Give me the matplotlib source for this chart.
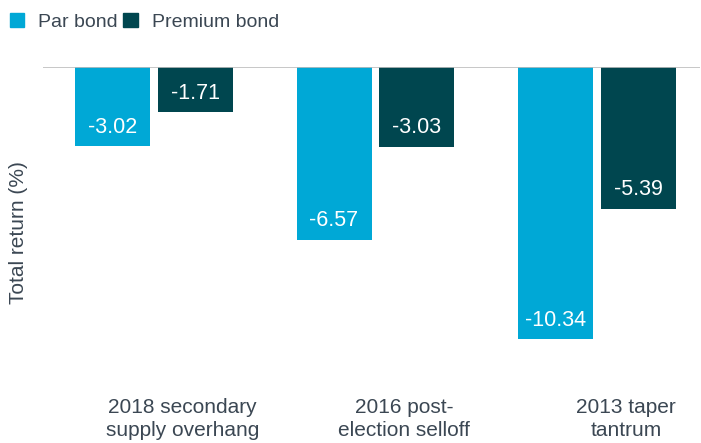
import matplotlib.pyplot as plt
from matplotlib.patches import Patch
import numpy as np

plt.rcParams['font.family'] = ['Liberation Sans', 'DejaVu Sans']

# DATA
categories = ["2018 secondary\nsupply overhang", "2016 post-\nelection selloff", "2013 taper\ntantrum"]
par_bond = [-3.02, -6.57, -10.34]
premium_bond = [-1.71, -3.03, -5.39]
series_names = ["Par bond", "Premium bond"]

par_color = '#00A8D6'
prem_color = '#00464F'
text_color = '#3B4753'

fig = plt.figure(figsize=(7.01, 4.43), dpi=100)
W, H = 701, 443
# axes: zero line at y=67px, spans x 43..700
ymin = -11.0
px_per_unit = 26.3
bottom_px = 67 + (-ymin) * px_per_unit
ax = fig.add_axes([43 / W, 1 - bottom_px / H, (700 - 43) / W, (bottom_px - 67) / H])

x = np.arange(len(categories))
width = 0.338
off = 0.187
bars1 = ax.bar(x - off, par_bond, width, color=par_color)
bars2 = ax.bar(x + off, premium_bond, width, color=prem_color)

for bars in [bars1, bars2]:
    for bar in bars:
        h = bar.get_height()
        ax.text(bar.get_x() + bar.get_width() / 2, h + 0.72, f"{h:.2f}",
                ha='center', va='center', color='white', fontsize=15.5)

ax.set_xlim(-0.5, 2.464)
ax.set_ylim(ymin, 0)
ax.axhline(0, color='#BDBDBD', linewidth=1.2)

for i, cat in enumerate(categories):
    ax.text(x[i] + 0.13, -12.6, cat, ha='center', va='top', fontsize=15,
            color=text_color, linespacing=1.25)

for s in ax.spines.values():
    s.set_visible(False)
ax.set_xticks([])
ax.set_yticks([])

fig.text(19 / W, 1 - 233 / H, "Total return (%)", rotation=90, ha='center', va='center',
         fontsize=15, color=text_color)

handles = [Patch(color=par_color), Patch(color=prem_color)]
fig.legend(handles, series_names, loc='upper left', bbox_to_anchor=(-0.011, 1.01), ncol=2,
           frameon=False, fontsize=14, handlelength=0.75, handleheight=0.75,
           columnspacing=0.3, handletextpad=0.7, labelcolor=text_color)

fig.savefig("out.png", dpi=100)
